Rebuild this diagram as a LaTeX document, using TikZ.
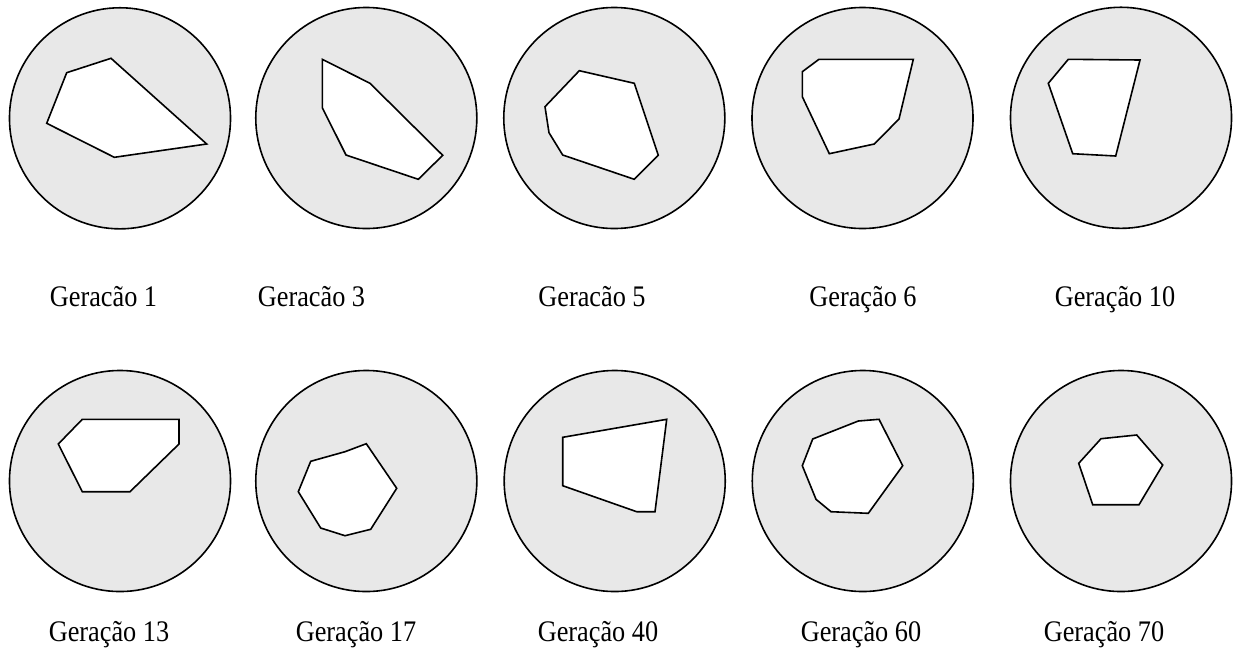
\documentclass[tikz,border=0pt]{standalone}
\usepackage{fontspec}
\setmainfont{Liberation Serif}[FakeStretch=0.88]
\usepackage{tikz}
\usetikzlibrary{positioning}
\definecolor{DiscoCinza}{RGB}{232,232,232}
\tikzset{
  disco/.style={draw=black,fill=DiscoCinza,line width=1.2pt},
  poli/.style={draw=black,fill=white,line width=1.2pt},
  rotulo/.style={anchor=base,inner sep=0pt,font=\fontsize{22.4}{26}\selectfont},
}

\begin{document}
\begin{tikzpicture}[x=0.75pt,y=-0.75pt]
    \useasboundingbox (0,0) rectangle (1237,654);
    % primeira linha
    \draw[disco] (120,118.3) circle[radius=82.9pt];
    \draw[poli] (66.7,72.7)--(111,58.3)--(206.7,144)--(114.3,157.3)--(46.7,123.3)--cycle;
    \draw[disco] (366.3,118) circle[radius=82.9pt];
    \draw[poli] (322.3,59.3)--(370,83.3)--(442.7,155.3)--(418.3,179.3)--(346,155)--(322.3,107.7)--cycle;
    \draw[disco] (614.3,118) circle[radius=82.9pt];
    \draw[poli] (579.3,70.7)--(634.3,83.3)--(658.3,155.3)--(634.3,179.3)--(562.7,155)--(549,132.7)--(545,106.7)--cycle;
    \draw[disco] (862.5,118) circle[radius=82.9pt];
    \draw[poli] (819,59.3)--(913.3,59.3)--(899,119)--(874.3,144)--(829.3,153.7)--(802.3,96.7)--(802.3,71.7)--cycle;
    \draw[disco] (1121,117.8) circle[radius=82.9pt];
    \draw[poli] (1068.3,59.3)--(1140,60)--(1115.7,156)--(1072.7,153.7)--(1048.3,83.3)--cycle;
    \node[rotulo] (g1)  at (103.5,306) {Geracão 1};
    \node[rotulo] (g3)  at (311.5,306) {Geracão 3};
    \node[rotulo] (g5)  at (592,306)   {Geracão 5};
    \node[rotulo] (g6)  at (863,306)   {Geração 6};
    \node[rotulo] (g10) at (1115,306)  {Geração 10};
    % segunda linha
    \draw[disco] (120,481) circle[radius=82.9pt];
    \draw[poli] (82.3,419.3)--(179,419.3)--(179,444)--(130,491.7)--(82.3,491.7)--(58.3,444)--cycle;
    \draw[disco] (366.3,481) circle[radius=82.9pt];
    \draw[poli] (310.7,461.3)--(345,451.7)--(366.3,443.7)--(396.7,488.3)--(370.7,529.3)--(345,535.7)--(320.7,528)--(298.3,491.7)--cycle;
    \draw[disco] (614.7,481) circle[radius=82.9pt];
    \draw[poli] (562.7,437.3)--(666.7,419.3)--(655,511.7)--(636.7,511.7)--(562.7,485.7)--cycle;
    \draw[disco] (862.8,481) circle[radius=82.9pt];
    \draw[poli] (812.7,439)--(858.3,421)--(879,419.3)--(902.7,465.7)--(868.3,513.3)--(831,511.7)--(816,499.3)--(802.3,465.7)--cycle;
    \draw[disco] (1121,481) circle[radius=82.9pt];
    \draw[poli] (1101,438.7)--(1136.7,435)--(1162.7,465)--(1139,504.7)--(1092.7,504.7)--(1078.7,463.3)--cycle;
    \node[rotulo] (g13) at (109,641) {Geração 13};
    \node[rotulo] (g17) at (356,641) {Geração 17};
    \node[rotulo] (g40) at (598,641) {Geração 40};
    \node[rotulo] (g60) at (861,641) {Geração 60};
    \node[rotulo] (g70) at (1104,641) {Geração 70};
\end{tikzpicture}
\end{document}
